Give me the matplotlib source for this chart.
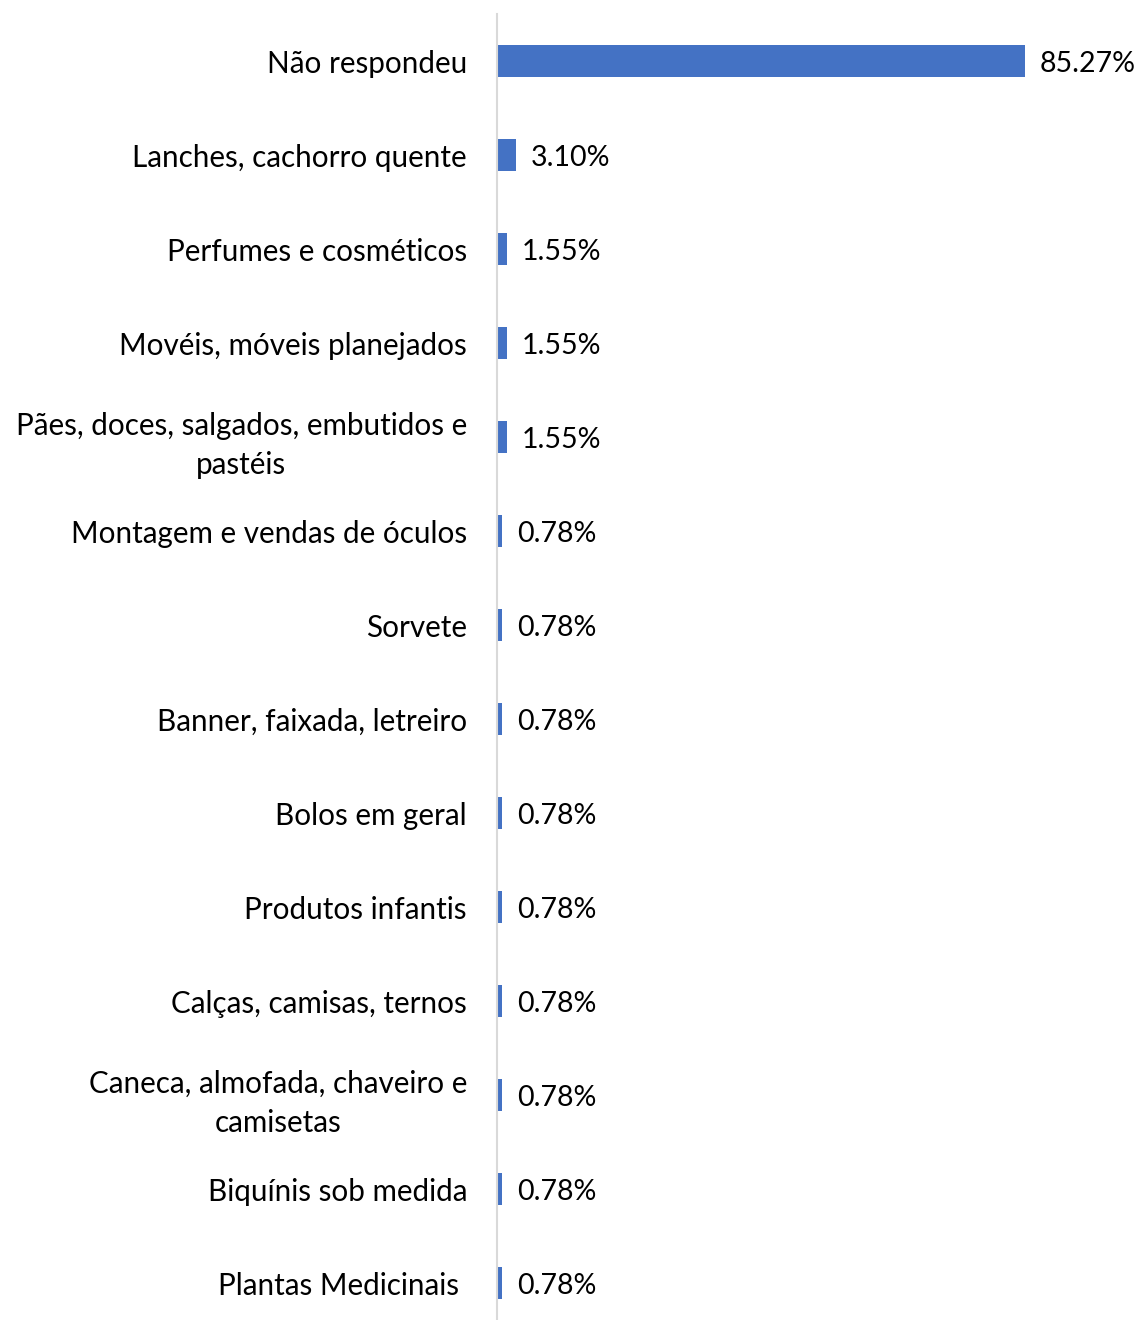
import matplotlib
matplotlib.use("Agg")
import matplotlib.pyplot as plt

categories = [
    "Não respondeu",
    "Lanches, cachorro quente",
    "Perfumes e cosméticos",
    "Movéis, móveis planejados",
    "Pães, doces, salgados, embutidos e\npastéis",
    "Montagem e vendas de óculos",
    "Sorvete",
    "Banner, faixada, letreiro",
    "Bolos em geral",
    "Produtos infantis",
    "Calças, camisas, ternos",
    "Caneca, almofada, chaveiro e\ncamisetas",
    "Biquínis sob medida",
    "Plantas Medicinais ",
]
values = [85.27, 3.10, 1.55, 1.55, 1.55, 0.78, 0.78, 0.78, 0.78, 0.78, 0.78, 0.78, 0.78, 0.78]

plt.rcParams["font.family"] = ["Lato", "DejaVu Sans"]

W, H = 1139, 1320
fig = plt.figure(figsize=(W / 100, H / 100), dpi=100)
ax = fig.add_axes([497 / W, -10 / H, 619 / W, 1316 / H])

pos = list(range(len(categories)))
ax.barh(pos, values, height=0.35, color="#4472C4")
ax.set_xlim(0, 100)
ax.set_ylim(len(categories) - 0.5, -0.5)

for i, v in enumerate(values):
    ax.annotate(f"{v:.2f}%", (v, i), xytext=(10.8, 0), textcoords="offset points",
                ha="left", va="center_baseline", fontsize=20.5, color="black",
                annotation_clip=False)

ax.set_yticks(pos)
ax.set_yticklabels(categories, fontsize=21.3, color="black")
for t in ax.get_yticklabels():
    t.set_multialignment("center")
    t.set_linespacing(1.5)
ax.tick_params(axis="y", length=0, pad=21.6)
ax.set_xticks([])

for s in ["top", "right", "bottom"]:
    ax.spines[s].set_visible(False)
ax.spines["left"].set_color("#d9d9d9")
ax.spines["left"].set_linewidth(1.5)

fig.savefig("out.png", dpi=100)
